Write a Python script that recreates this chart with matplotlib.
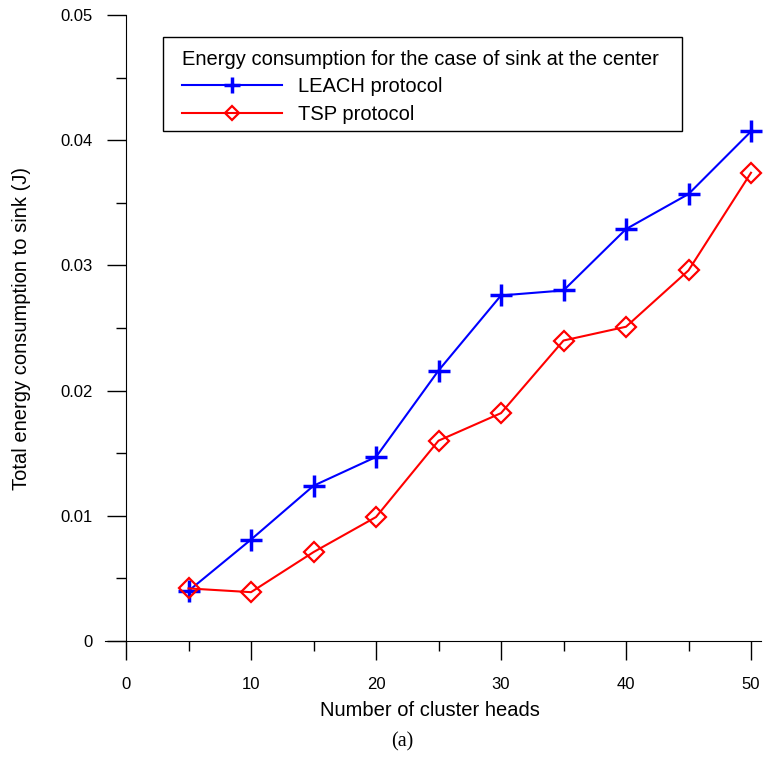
import numpy as np
import matplotlib.pyplot as plt
from matplotlib.patches import Rectangle
from matplotlib.ticker import MultipleLocator, FixedFormatter, FixedLocator

plt.rcParams['font.family'] = ['Liberation Sans', 'DejaVu Sans']

cluster_heads = [5, 10, 15, 20, 25, 30, 35, 40, 45, 50]
leach = [0.0040, 0.0081, 0.0124, 0.0147, 0.0216, 0.0276, 0.0280, 0.0329, 0.0357, 0.0407]
tsp = [0.0042, 0.0039, 0.0071, 0.0099, 0.0160, 0.0182, 0.0240, 0.0251, 0.0296, 0.0374]

x_ticks = [0, 10, 20, 30, 40, 50]
y_ticks = [0, 0.01, 0.02, 0.03, 0.04, 0.05]
y_labels = ['0', '0.01', '0.02', '0.03', '0.04', '0.05']

W, H = 763, 758
fig = plt.figure(figsize=(W / 100, H / 100), dpi=100)
ax = fig.add_axes([126 / W, 1 - 641 / H, 625 / W, 626 / H])

ax.plot(cluster_heads, leach, color='#0000ff', lw=1.5, marker='+',
        ms=16, mew=2.5, label='LEACH protocol', clip_on=False)
ax.plot(cluster_heads, tsp, color='#ff0000', lw=1.5, marker='D',
        ms=10, mew=1.6, mfc='none', label='TSP protocol', clip_on=False)

ax.set_xlim(0, 50)
ax.set_ylim(0, 0.05)

ax.spines['top'].set_visible(False)
ax.spines['right'].set_visible(False)
ax.spines['bottom'].set_bounds(-1.7, 50.8)

ax.xaxis.set_major_locator(FixedLocator(x_ticks))
ax.xaxis.set_minor_locator(MultipleLocator(5))
ax.yaxis.set_major_locator(FixedLocator(y_ticks))
ax.yaxis.set_major_formatter(FixedFormatter(y_labels))
ax.yaxis.set_minor_locator(MultipleLocator(0.005))

ax.tick_params(which='major', direction='out', length=14, width=1, labelsize=12, pad=10)
ax.tick_params(axis='x', which='major', pad=12)
ax.tick_params(which='minor', direction='out', length=7, width=1)

# axis titles
fig.text(22 / W, 1 - 328 / H, 'Total energy consumption to sink (J)', fontsize=14.5,
         rotation=90, ha='center', va='center')
fig.text(430 / W, 1 - 710 / H, 'Number of cluster heads', fontsize=14.5,
         ha='center', va='center')
fig.text(402 / W, 1 - 742 / H, '(a)', fontsize=14.5, ha='center', va='center',
         family='Liberation Serif')

leg = ax.legend(loc='upper left', bbox_to_anchor=(182 / W, 1 - 50 / H),
                bbox_transform=fig.transFigure, frameon=False,
                title='Energy consumption for the case of sink at the center',
                title_fontsize=14.5, fontsize=14.5, handlelength=4.95,
                borderpad=0, borderaxespad=0, labelspacing=0.42,
                handletextpad=0.8, markerscale=0.7)
leg._legend_box.align = 'left'

# legend box
fig.add_artist(Rectangle((163 / W, 1 - 131 / H), 519 / W, 94 / H,
                         transform=fig.transFigure, fill=False,
                         edgecolor='black', lw=1))

plt.savefig('out.png', dpi=100)
